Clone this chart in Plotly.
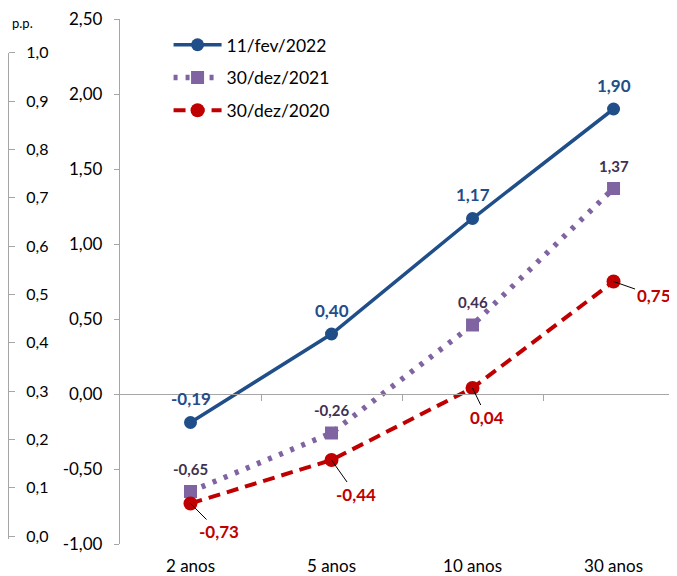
import plotly.graph_objects as go

categories = ["2 anos", "5 anos", "10 anos", "30 anos"]
s_fev2022 = [-0.19, 0.40, 1.17, 1.90]
s_dez2021 = [-0.65, -0.26, 0.46, 1.37]
s_dez2020 = [-0.73, -0.44, 0.04, 0.75]
names = ["11/fev/2022", "30/dez/2021", "30/dez/2020"]
y_ticks = [-1.0, -0.5, 0.0, 0.5, 1.0, 1.5, 2.0, 2.5]
pp_ticks = [0.0, 0.1, 0.2, 0.3, 0.4, 0.5, 0.6, 0.7, 0.8, 0.9, 1.0]

FONT = "Lato"
BLUE = "#1f4e89"
PURPLE = "#8064a2"
PURPLE_TXT = "#3f3151"
RED = "#c00000"
AXIS = "#a6a6a6"

xs = list(range(len(categories)))
YMIN, YMAX = -1.0, 2.5

def fmt(v, d=2):
    return f"{v:.{d}f}".replace(".", ",")

fig = go.Figure()
fig.add_trace(go.Scatter(x=xs, y=s_fev2022, name=names[0], mode="lines+markers",
                         line=dict(color=BLUE, width=3.5),
                         marker=dict(symbol="circle", size=13, color=BLUE),
                         legendgroup="a"))
fig.add_trace(go.Scatter(x=xs, y=s_dez2021, name=names[1], mode="lines+markers",
                         line=dict(color=PURPLE, width=5.5, dash="4px,8px"),
                         marker=dict(symbol="square", size=13, color=PURPLE),
                         legendgroup="b"))
fig.add_trace(go.Scatter(x=xs, y=s_dez2020, name=names[2], mode="lines+markers",
                         line=dict(color=RED, width=4, dash="12px,7px"),
                         marker=dict(symbol="circle", size=14, color=RED),
                         legendgroup="c"))
# dummy traces for extra axes
fig.add_trace(go.Scatter(x=[None], y=[None], xaxis="x3", yaxis="y", showlegend=False, hoverinfo="skip"))
fig.add_trace(go.Scatter(x=[None], y=[None], xaxis="x2", yaxis="y2", showlegend=False, hoverinfo="skip"))

ann = []
for i, v in enumerate(s_fev2022):
    ann.append(dict(x=xs[i], y=v, text=f"<b>{fmt(v)}</b>", showarrow=False, yshift=24,
                    font=dict(color=BLUE, size=17, family=FONT)))
for i, v in enumerate(s_dez2021):
    ann.append(dict(x=xs[i], y=v, text=f"<b>{fmt(v)}</b>", showarrow=False, yshift=23,
                    font=dict(color=PURPLE_TXT, size=15, family=FONT)))
red_off = [(28, 28), (24, 34), (14, 29), (40, 14)]
for i, v in enumerate(s_dez2020):
    ax, ay = red_off[i]
    ann.append(dict(x=xs[i], y=v, text=f"<b>{fmt(v)}</b>", showarrow=True, arrowhead=0,
                    arrowwidth=1, arrowcolor="black", ax=ax, ay=ay, standoff=0,
                    font=dict(color=RED, size=17, family=FONT)))
ann.append(dict(xref="paper", yref="paper", x=0.021, y=0.992, xanchor="center", yanchor="middle",
                text="p.p.", showarrow=False, font=dict(size=13, color="black", family=FONT)))

fig.update_layout(
    width=669, height=568,
    margin=dict(l=0, r=0, t=10, b=31),
    paper_bgcolor="white", plot_bgcolor="white",
    separators=",.",
    font=dict(family=FONT, size=15, color="black"),
    showlegend=True,
    legend=dict(x=0.24, y=0.985, xanchor="left", yanchor="top", font=dict(size=17.5, family=FONT),
                traceorder="grouped", tracegroupgap=7, itemwidth=48, bgcolor="rgba(0,0,0,0)"),
    xaxis=dict(domain=[0.1674, 1], range=[-0.5, 3.45], tickvals=xs, ticktext=categories,
               showline=False, showgrid=False, zeroline=False, ticks="", ticklabelstandoff=10,
               tickfont=dict(size=17, family=FONT, color="black")),
    xaxis3=dict(overlaying="x", anchor="free", position=(0 - YMIN) / (YMAX - YMIN),
                range=[-0.5, 3.45], tickvals=[0.5, 1.5, 2.5], ticks="outside", ticklen=6,
                tickcolor=AXIS, showticklabels=False, showline=True, linecolor=AXIS,
                linewidth=1.3, showgrid=False, zeroline=False),
    yaxis=dict(anchor="x", range=[YMIN, YMAX], tickvals=y_ticks,
               ticktext=[fmt(t, 2) for t in y_ticks], ticklabeloverflow="allow",
               ticks="outside", ticklen=5, tickcolor=AXIS, showline=True, linecolor=AXIS,
               linewidth=1.3, showgrid=False, zeroline=False, ticklabelstandoff=8,
               tickfont=dict(size=17, family=FONT, color="black")),
    xaxis2=dict(domain=[0, 0.01], visible=False, range=[0, 1]),
    yaxis2=dict(anchor="free", position=0, side="right", domain=[0.0095, 0.9355],
                range=[-0.006, 1.0], tickvals=pp_ticks, ticktext=[fmt(t, 1) for t in pp_ticks],
                ticklabeloverflow="allow",
                ticks="outside", ticklen=6, tickcolor=AXIS, showline=True, linecolor=AXIS,
                linewidth=1.3, showgrid=False, zeroline=False, ticklabelstandoff=8,
                tickfont=dict(size=16, family=FONT, color="black")),
    annotations=ann,
)

fig.write_html("out.html")
